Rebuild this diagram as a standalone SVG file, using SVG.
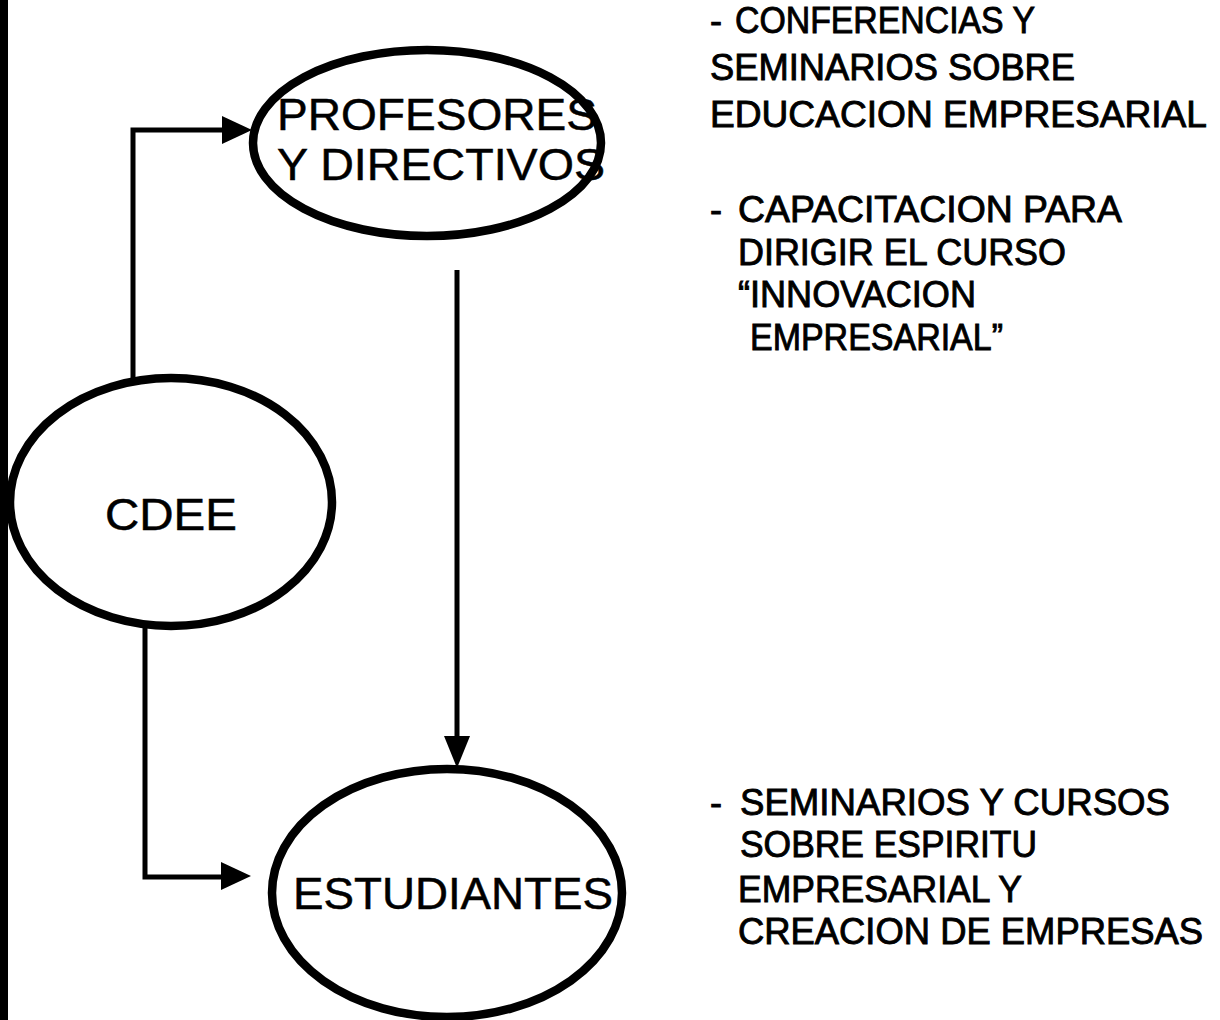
<svg xmlns="http://www.w3.org/2000/svg" width="1220" height="1020" viewBox="0 0 1220 1020">
<defs>
<style>
.node{fill:#fff;stroke:#000;stroke-width:8.5}
.lbl{font-family:"Liberation Sans",Arial,sans-serif;font-size:45px;fill:#000;stroke:#000;stroke-width:0.5}
.note{font-family:"Liberation Sans",Arial,sans-serif;font-size:36px;fill:#000;stroke:#000;stroke-width:0.9}
.conn{fill:none;stroke:#000;stroke-width:5}
.head{fill:#000}
</style>
</defs>
<rect width="1220" height="1020" fill="#fff"/>
<rect x="0" y="0" width="8" height="1020" fill="#000"/>
<g id="connectors">
<polyline class="conn" points="133,380 133,130 226,130"/>
<polygon class="head" points="252,130 222,116 222,144"/>
<polyline class="conn" points="145,622 145,877 226,877"/>
<polygon class="head" points="251,876 221,862 221,890"/>
<line class="conn" x1="457" y1="270" x2="457" y2="742"/>
<polygon class="head" points="457,768 444,736 470,736"/>
</g>
<g id="node-profesores">
<ellipse class="node" cx="427" cy="143" rx="174" ry="93"/>
<text class="lbl" x="277" y="130" textLength="320" lengthAdjust="spacingAndGlyphs">PROFESORES</text>
<text class="lbl" x="277" y="180" textLength="328" lengthAdjust="spacingAndGlyphs">Y DIRECTIVOS</text>
</g>
<g id="node-cdee">
<ellipse class="node" cx="171" cy="502" rx="161" ry="124"/>
<text class="lbl" x="105" y="530" textLength="132" lengthAdjust="spacingAndGlyphs">CDEE</text>
</g>
<g id="node-estudiantes">
<ellipse class="node" cx="447" cy="893" rx="175" ry="124"/>
<text class="lbl" x="293" y="909" textLength="320" lengthAdjust="spacingAndGlyphs">ESTUDIANTES</text>
</g>
<g id="notes-profesores">
<text class="note" x="710" y="33">-</text>
<text class="note" x="735" y="33" textLength="300" lengthAdjust="spacingAndGlyphs">CONFERENCIAS Y</text>
<text class="note" x="710" y="80" textLength="365" lengthAdjust="spacingAndGlyphs">SEMINARIOS SOBRE</text>
<text class="note" x="710" y="127" textLength="497" lengthAdjust="spacingAndGlyphs">EDUCACION EMPRESARIAL</text>
<text class="note" x="710" y="222">-</text>
<text class="note" x="738" y="222" textLength="384" lengthAdjust="spacingAndGlyphs">CAPACITACION PARA</text>
<text class="note" x="738" y="265" textLength="328" lengthAdjust="spacingAndGlyphs">DIRIGIR EL CURSO</text>
<text class="note" x="738" y="307" textLength="238" lengthAdjust="spacingAndGlyphs">“INNOVACION</text>
<text class="note" x="750" y="350" textLength="253" lengthAdjust="spacingAndGlyphs">EMPRESARIAL”</text>
</g>
<g id="notes-estudiantes">
<text class="note" x="710" y="815">-</text>
<text class="note" x="740" y="815" textLength="430" lengthAdjust="spacingAndGlyphs">SEMINARIOS Y CURSOS</text>
<text class="note" x="740" y="857" textLength="297" lengthAdjust="spacingAndGlyphs">SOBRE ESPIRITU</text>
<text class="note" x="738" y="902" textLength="284" lengthAdjust="spacingAndGlyphs">EMPRESARIAL Y</text>
<text class="note" x="738" y="944" textLength="465" lengthAdjust="spacingAndGlyphs">CREACION DE EMPRESAS</text>
</g>
</svg>
